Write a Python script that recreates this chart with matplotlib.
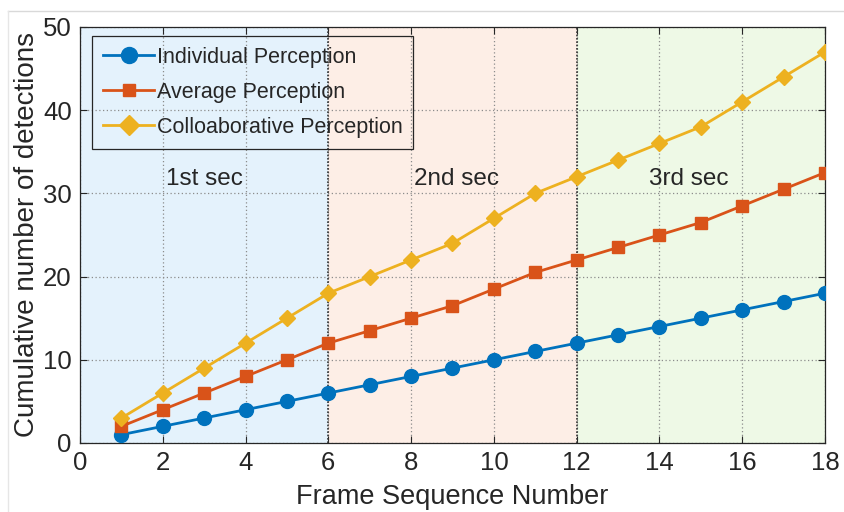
import matplotlib
matplotlib.use("Agg")
import matplotlib.pyplot as plt
from matplotlib.lines import Line2D

plt.rcParams["font.family"] = ["Liberation Sans", "DejaVu Sans"]

frames = list(range(1, 19))
individual = [1, 2, 3, 4, 5, 6, 7, 8, 9, 10, 11, 12, 13, 14, 15, 16, 17, 18]
average = [2, 4, 6, 8, 10, 12, 13.5, 15, 16.5, 18.5, 20.5, 22, 23.5, 25, 26.5, 28.5, 30.5, 32.5]
collab = [3, 6, 9, 12, 15, 18, 20, 22, 24, 27, 30, 32, 34, 36, 38, 41, 44, 47]

sec_edges = [0, 6, 12, 18]
sec_labels = ["1st sec", "2nd sec", "3rd sec"]
sec_label_x = [3.0, 9.1, 14.7]
sec_colors = ["#e4f2fc", "#fdeee6", "#eef9e6"]

BLUE, ORANGE, YELLOW = "#0072BD", "#D95319", "#EDB120"
TXT = "#262626"

fig = plt.figure(figsize=(8.45, 5.12), dpi=100)
ax = fig.add_axes([0.0947, 0.1348, 0.9763 - 0.0947, 0.9473 - 0.1348])

for i, lab in enumerate(sec_labels):
    ax.axvspan(sec_edges[i], sec_edges[i + 1], color=sec_colors[i], zorder=0, lw=0)
    ax.text(sec_label_x[i], 31.7, lab, ha="center", va="center", fontsize=17.5, color=TXT)
for xv in sec_edges[1:3]:
    ax.axvline(xv, color="#333333", lw=1.2, ls=(0, (1, 1)), zorder=1.5)

ax.plot(frames, individual, color=BLUE, lw=2, marker="o", ms=10, label="Individual Perception", zorder=3)
ax.plot(frames, average, color=ORANGE, lw=2, marker="s", ms=8, label="Average Perception", zorder=3)
ax.plot(frames, collab, color=YELLOW, lw=2, marker="D", ms=8.5, label="Colloaborative Perception", zorder=3)

ax.set_xlim(0, 18)
ax.set_ylim(0, 50)
ax.set_xticks(range(0, 19, 2))
ax.set_yticks(range(0, 51, 10))
ax.grid(True, ls=(0, (1, 2)), color="#8c8c8c", lw=0.9, zorder=1)
ax.set_axisbelow(True)
ax.tick_params(direction="in", top=True, right=True, labelsize=18.5, colors=TXT, length=5, pad=6)
for s in ax.spines.values():
    s.set_color(TXT)
    s.set_linewidth(0.9)

ax.set_xlabel("Frame Sequence Number", fontsize=19.5, color=TXT, labelpad=6)
ax.set_ylabel("Cumulative number of detections", fontsize=20, color=TXT, labelpad=2)

leg = ax.legend(loc="upper left", fontsize=15.5, frameon=True, fancybox=False,
                framealpha=1, facecolor="none", edgecolor=TXT, borderpad=0.5,
                labelspacing=0.65, handlelength=2.4, handletextpad=0.1,
                borderaxespad=0, bbox_to_anchor=(0.016, 0.978), markerscale=1.15)
leg.get_frame().set_linewidth(0.9)
for t in leg.get_texts():
    t.set_color(TXT)

# faint screenshot border
fig.add_artist(Line2D([0.0095, 1.0], [0.978, 0.978], color="#d9d9d9", lw=1, transform=fig.transFigure))
fig.add_artist(Line2D([0.0095, 0.0095], [0.0, 0.978], color="#e6e6e6", lw=1, transform=fig.transFigure))

fig.savefig("out.png", dpi=100)
